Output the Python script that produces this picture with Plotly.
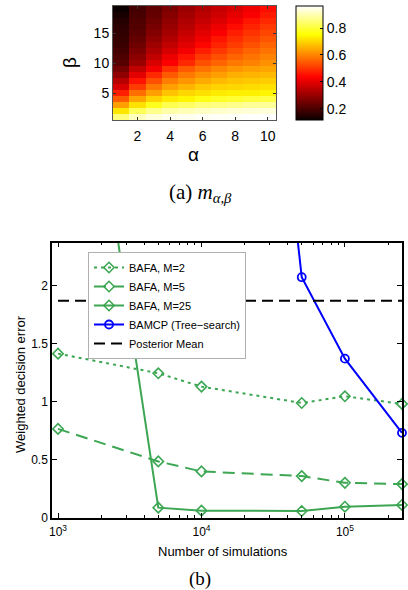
import plotly.graph_objects as go

# ---------------- data: heatmap m_{alpha,beta} ----------------
alpha = [1, 2, 3, 4, 5, 6, 7, 8, 9, 10]
beta = list(range(1, 20))
# rows: beta = 1 .. 19 (bottom to top); columns: alpha = 1 .. 10
m_values = [
    [0.853, 0.911, 0.936, 0.948, 0.952, 0.957, 0.959, 0.961, 0.963, 0.965],  # beta=1
    [0.721, 0.827, 0.869, 0.894, 0.906, 0.915, 0.923, 0.928, 0.932, 0.936],  # beta=2
    [0.634, 0.715, 0.777, 0.819, 0.836, 0.853, 0.861, 0.869, 0.878, 0.878],  # beta=3
    [0.546, 0.640, 0.696, 0.728, 0.740, 0.769, 0.786, 0.794, 0.803, 0.811],  # beta=4
    [0.471, 0.571, 0.634, 0.678, 0.702, 0.715, 0.728, 0.734, 0.734, 0.740],  # beta=5
    [0.384, 0.509, 0.584, 0.634, 0.659, 0.684, 0.696, 0.702, 0.709, 0.715],  # beta=6
    [0.340, 0.458, 0.534, 0.590, 0.621, 0.646, 0.665, 0.678, 0.684, 0.690],  # beta=7
    [0.290, 0.396, 0.484, 0.546, 0.584, 0.615, 0.634, 0.652, 0.659, 0.665],  # beta=8
    [0.253, 0.353, 0.421, 0.496, 0.546, 0.577, 0.602, 0.621, 0.634, 0.640],  # beta=9
    [0.215, 0.303, 0.384, 0.434, 0.484, 0.534, 0.559, 0.584, 0.596, 0.615],  # beta=10
    [0.203, 0.284, 0.353, 0.409, 0.459, 0.503, 0.534, 0.559, 0.578, 0.596],  # beta=11
    [0.190, 0.265, 0.328, 0.378, 0.421, 0.471, 0.503, 0.534, 0.559, 0.578],  # beta=12
    [0.178, 0.246, 0.309, 0.353, 0.396, 0.440, 0.478, 0.509, 0.534, 0.559],  # beta=13
    [0.171, 0.234, 0.290, 0.334, 0.378, 0.415, 0.459, 0.490, 0.515, 0.540],  # beta=14
    [0.165, 0.221, 0.271, 0.315, 0.359, 0.396, 0.428, 0.471, 0.496, 0.521],  # beta=15
    [0.159, 0.209, 0.259, 0.303, 0.340, 0.378, 0.409, 0.447, 0.478, 0.503],  # beta=16
    [0.150, 0.203, 0.246, 0.290, 0.328, 0.359, 0.390, 0.421, 0.459, 0.484],  # beta=17
    [0.135, 0.196, 0.234, 0.278, 0.315, 0.346, 0.371, 0.403, 0.428, 0.465],  # beta=18
    [0.115, 0.190, 0.228, 0.265, 0.303, 0.334, 0.359, 0.384, 0.415, 0.447],  # beta=19
]
heat_xticks = [2, 4, 6, 8, 10]
heat_yticks = [5, 10, 15]
cbar_ticks = [0.2, 0.4, 0.6, 0.8]

# ---------------- data: decision error vs simulations ----------------
sims = [1000, 5000, 10000, 50000, 100000, 250000]
bafa_m2 = [1.415, 1.246, 1.131, 0.990, 1.048, 0.982]
bafa_m5 = [0.767, 0.487, 0.401, 0.361, 0.303, 0.292]
bafa_m25 = [5.8, 0.089, 0.063, 0.060, 0.097, 0.112]
bamcp_sims = [10000, 50000, 100000, 250000]
bamcp = [9.9, 2.073, 1.372, 0.733]
posterior_sims = [1000, 250000]
posterior_mean = [1.87, 1.87]

err_yticks = [0, 0.5, 1, 1.5, 2]
err_yticklabels = ["0", "0.5", "1", "1.5", "2"]
err_xticks = [1e3, 1e4, 1e5]
err_xticklabels = ["10<sup>3</sup>", "10<sup>4</sup>", "10<sup>5</sup>"]
minor_xticks = [k * 10 ** e for e in (3, 4, 5) for k in range(2, 10) if k * 10 ** e <= 250000]

W, H = 408, 590
SANS = "Liberation Sans, Arial, sans-serif"
SERIF = "Liberation Serif, Times New Roman, serif"
GREEN = "#3ca653"
BLUE = "#0000ff"

def px_x(p):
    return p / W

def px_y(p):
    return 1 - p / H

hot = [[0.0, "rgb(10,0,0)"], [0.375, "rgb(255,0,0)"],
       [0.75, "rgb(255,255,0)"], [1.0, "rgb(255,255,255)"]]

fig = go.Figure()

fig.add_trace(go.Heatmap(
    x=alpha, y=beta, z=m_values, colorscale=hot, zmin=0.115, zmax=0.965,
    xaxis="x", yaxis="y", showscale=True, hoverinfo="skip", showlegend=False,
    colorbar=dict(
        x=px_x(296), xanchor="left", xref="paper",
        y=px_y(6), yanchor="top", yref="paper",
        len=114 / H, lenmode="fraction", thickness=27, thicknessmode="pixels",
        xpad=0, ypad=0, outlinewidth=1, outlinecolor="black",
        tickvals=cbar_ticks, ticktext=[f"{v:.1f}" for v in cbar_ticks],
        ticks="inside", ticklen=3, tickcolor="black",
        tickfont=dict(family=SANS, size=14, color="black"),
    ),
))

fig.add_trace(go.Scatter(
    x=sims, y=bafa_m2, name="BAFA, M=2", mode="lines+markers",
    line=dict(color=GREEN, width=2, dash="3px,4px"),
    marker=dict(symbol="diamond-open", size=8, color=GREEN, line=dict(width=1.6, color=GREEN)),
    xaxis="x2", yaxis="y2", cliponaxis=False))
fig.add_trace(go.Scatter(
    x=sims, y=bafa_m5, name="BAFA, M=5", mode="lines+markers",
    line=dict(color=GREEN, width=2, dash="12px,7px"),
    marker=dict(symbol="diamond-open", size=8, color=GREEN, line=dict(width=1.6, color=GREEN)),
    xaxis="x2", yaxis="y2", cliponaxis=False))
fig.add_trace(go.Scatter(
    x=sims, y=bafa_m25, name="BAFA, M=25", mode="lines+markers",
    line=dict(color=GREEN, width=2),
    marker=dict(symbol="diamond-open", size=8, color=GREEN, line=dict(width=1.6, color=GREEN)),
    xaxis="x2", yaxis="y2", cliponaxis=False))
fig.add_trace(go.Scatter(
    x=bamcp_sims, y=bamcp, name="BAMCP (Tree\u2212search)", mode="lines+markers",
    line=dict(color=BLUE, width=2),
    marker=dict(symbol="circle-open", size=8, color=BLUE, line=dict(width=1.8, color=BLUE)),
    xaxis="x2", yaxis="y2", cliponaxis=False))
fig.add_trace(go.Scatter(
    x=posterior_sims, y=posterior_mean, name="Posterior Mean", mode="lines",
    line=dict(color="black", width=2, dash="11px,6px"),
    xaxis="x2", yaxis="y2"))

axis_font = dict(family=SANS, size=14, color="black")
fig.update_layout(
    width=W, height=H, margin=dict(l=0, r=0, t=0, b=0, autoexpand=False),
    paper_bgcolor="white", plot_bgcolor="white",
    font=dict(family=SANS, color="black"),
    xaxis=dict(domain=[px_x(113), px_x(276)], range=[0.5, 10.5],
               tickvals=heat_xticks, ticks="inside", ticklen=3, tickcolor="#333",
               showline=True, linecolor="#555", linewidth=1, mirror="ticks",
               showgrid=False, zeroline=False, tickfont=axis_font, anchor="y",
               ticklabelstandoff=3),
    yaxis=dict(domain=[px_y(120), px_y(6)], range=[0.5, 19.5],
               tickvals=heat_yticks, ticks="inside", ticklen=3, tickcolor="#333",
               showline=True, linecolor="#555", linewidth=1, mirror="ticks",
               showgrid=False, zeroline=False, tickfont=axis_font, anchor="x"),
    xaxis2=dict(domain=[px_x(52), px_x(402)], type="log",
                range=[2.958, 5.398], tickvals=err_xticks, ticktext=err_xticklabels,
                ticks="inside", ticklen=5, tickwidth=1, tickcolor="black",
                minor=dict(tickvals=minor_xticks, ticks="inside", ticklen=3,
                           tickcolor="black", showgrid=False),
                showline=True, linecolor="black", linewidth=1.5, mirror="ticks",
                showgrid=False, zeroline=False, ticklabelstandoff=2,
                tickfont=dict(family=SANS, size=12, color="black"), anchor="y2"),
    yaxis2=dict(domain=[px_y(518), px_y(242.7)], range=[0, 2.37],
                tickvals=err_yticks, ticktext=err_yticklabels,
                ticks="inside", ticklen=5, tickwidth=1, tickcolor="black",
                showline=True, linecolor="black", linewidth=1.5, mirror="ticks",
                showgrid=False, zeroline=False,
                tickfont=dict(family=SANS, size=12, color="black"), anchor="x2"),
    showlegend=True,
    legend=dict(x=px_x(88), y=px_y(252), xanchor="left", yanchor="top",
                bgcolor="white", bordercolor="#b0b0b0", borderwidth=1,
                font=dict(family=SANS, size=11, color="black"),
                tracegroupgap=0),
)

annotations = [
    dict(text="\u03b2", x=px_x(70), y=px_y(63), textangle=-90, font=dict(family=SANS, size=19)),
    dict(text="\u03b1", x=px_x(193), y=px_y(155), font=dict(family=SANS, size=19)),
    dict(text="(a) <i>m</i><sub><i>\u03b1,\u03b2</i></sub>", x=px_x(200), y=px_y(193),
         font=dict(family=SERIF, size=21)),
    dict(text="Weighted decision error", x=px_x(20), y=px_y(384), textangle=-90,
         font=dict(family=SANS, size=13)),
    dict(text="Number of simulations", x=px_x(223), y=px_y(551),
         font=dict(family=SANS, size=13)),
    dict(text="(b)", x=px_x(200), y=px_y(579), font=dict(family=SERIF, size=19)),
]
for a in annotations:
    a.update(xref="paper", yref="paper", showarrow=False, xanchor="center", yanchor="middle")
fig.update_layout(annotations=annotations)

fig.write_html("out.html", config={"displayModeBar": False},
               post_script="document.body.style.margin='0';document.body.style.padding='0';")
